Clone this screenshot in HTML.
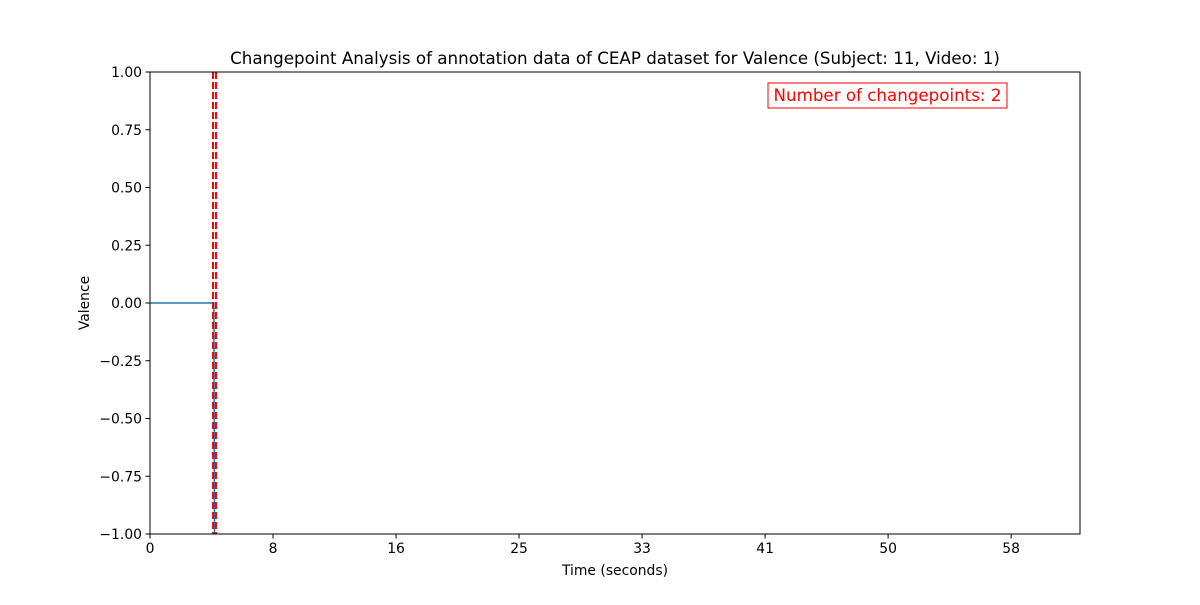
<!DOCTYPE html>
<html><head><meta charset="utf-8"><style>
html,body{margin:0;padding:0;background:#fff;}
svg text{font-family:"DejaVu Sans","Liberation Sans",sans-serif;}
</style></head><body>
<svg id="chart" width="1200" height="600" xmlns="http://www.w3.org/2000/svg"></svg>
<script>
const seriesTimes = [0, 4.33, 4.37];
const seriesValues = [0, 0, -1];
const changepoints = [4.27, 4.47];
const xTicks = [0, 8.333, 16.667, 25, 33.333, 41.667, 50, 58.333];
const xTickLabels = ["0", "8", "16", "25", "33", "41", "50", "58"];
const yTicks = [-1, -0.75, -0.5, -0.25, 0, 0.25, 0.5, 0.75, 1];
const yTickLabels = ["\u22121.00","\u22120.75","\u22120.50","\u22120.25","0.00","0.25","0.50","0.75","1.00"];

const L=150,R=1080,T=72,B=534, XMAX=63;
const sx=v=>L+(v/XMAX)*(R-L);
const sy=v=>B-(v+1)/2*(B-T);
const svg=document.getElementById('chart');
const NS='http://www.w3.org/2000/svg';
function mk(tag,attrs,text){const e=document.createElementNS(NS,tag);for(const k in attrs)e.setAttribute(k,attrs[k]);if(text!==undefined)e.textContent=text;svg.appendChild(e);return e;}

let d=seriesTimes.map((t,i)=>(i?'L':'M')+sx(t)+','+sy(seriesValues[i])).join(' ');
let p=mk('path',{d:d,fill:'none',stroke:'#1f77b4','stroke-width':1.5});



changepoints.forEach((c,i)=>{
  let l=mk('line',{x1:sx(c),x2:sx(c),y1:T,y2:B,stroke:'#ff0000','stroke-width':2,'stroke-dasharray':'7,3'});
  
  
});

let frame=mk('rect',{x:L,y:T,width:R-L,height:B-T,fill:'none',stroke:'#000','stroke-width':1});



xTicks.forEach((v,i)=>{
  mk('line',{x1:sx(v),x2:sx(v),y1:B,y2:B+4.5,stroke:'#000'});
  let t=mk('text',{x:sx(v),y:B+19,'font-size':13.9,'text-anchor':'middle'},xTickLabels[i]);
  
  
});
yTicks.forEach((v,i)=>{
  mk('line',{x1:L-4.5,x2:L,y1:sy(v),y2:sy(v),stroke:'#000'});
  let t=mk('text',{x:L-8,y:sy(v)+5,'font-size':13.9,'text-anchor':'end'},yTickLabels[i]);
  
  
});

let title=mk('text',{x:615,y:64,'font-size':16.7,'text-anchor':'middle'},'Changepoint Analysis of annotation data of CEAP dataset for Valence (Subject: 11, Video: 1)');


let xt=mk('text',{x:615,y:575,'font-size':13.9,'text-anchor':'middle'},'Time (seconds)');


let yt=mk('text',{x:89,y:303,'font-size':13.9,'text-anchor':'middle',transform:'rotate(-90 89 303)'},'Valence');



let box=mk('rect',{x:768,y:83,width:239,height:25,fill:'#fff',stroke:'#ff0000','stroke-width':1});


let bt=mk('text',{x:887.5,y:101,'font-size':16.7,'text-anchor':'middle',fill:'#ff0000'},'Number of changepoints: 2');


</script>
</body></html>
